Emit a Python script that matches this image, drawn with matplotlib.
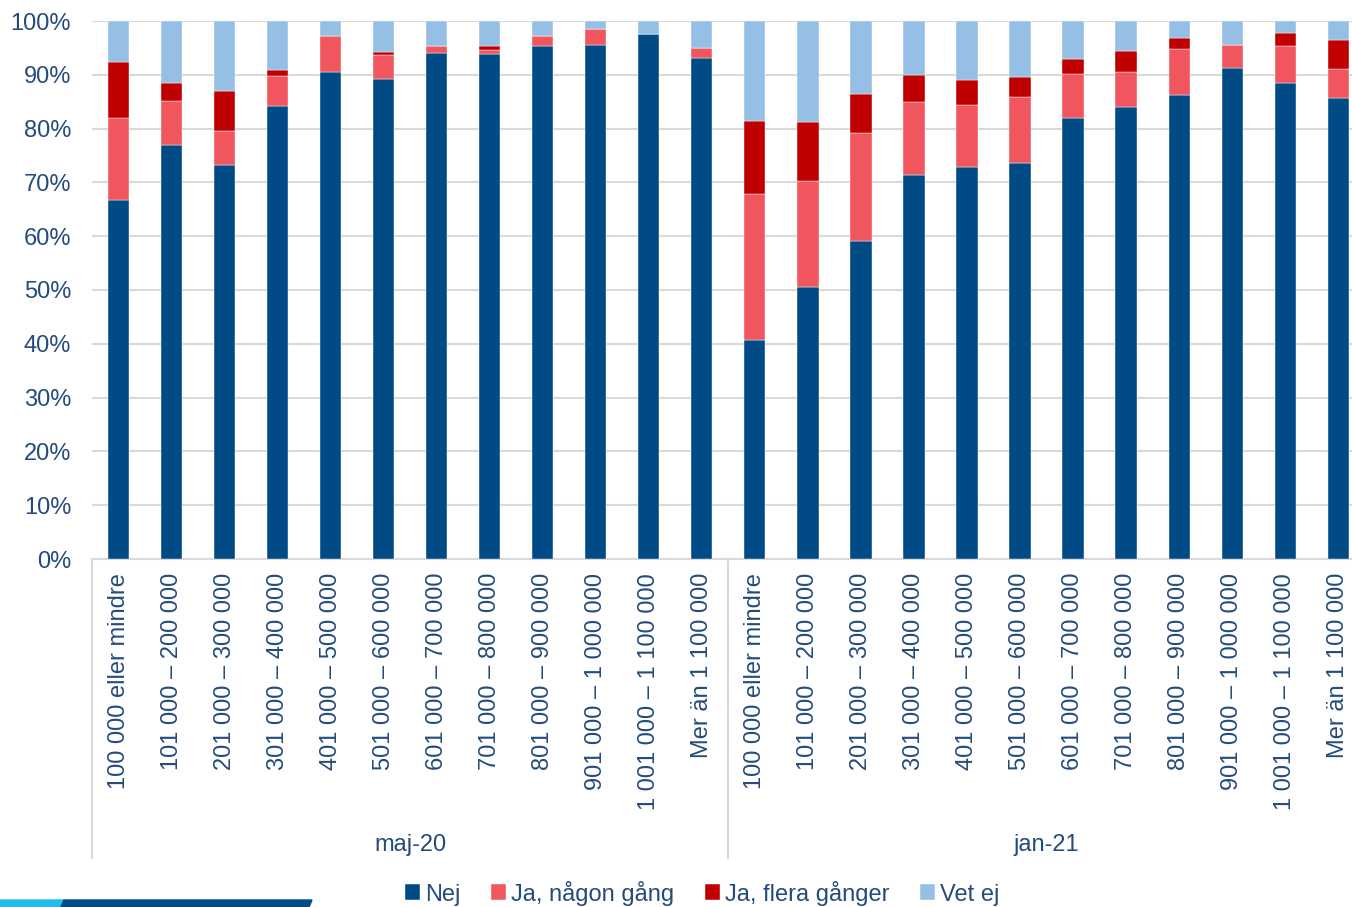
import numpy as np
import matplotlib.pyplot as plt
from matplotlib.patches import Polygon
from matplotlib.lines import Line2D
import matplotlib.transforms as mtransforms

plt.rcParams["font.family"] = ["Liberation Sans", "DejaVu Sans"]

# kategorier (inkomstklasser) och perioder
klasser = ["100 000 eller mindre", "101 000 – 200 000", "201 000 – 300 000",
           "301 000 – 400 000", "401 000 – 500 000", "501 000 – 600 000",
           "601 000 – 700 000", "701 000 – 800 000", "801 000 – 900 000",
           "901 000 – 1 000 000", "1 001 000 – 1 100 000", "Mer än 1 100 000"]
perioder = ["maj-20", "jan-21"]

# andelar i procent, maj-20 följt av jan-21
nej = [66.7, 77.0, 73.3, 84.2, 90.6, 89.2, 94.1, 93.8, 95.3, 95.6, 97.6, 93.2,
       40.7, 50.5, 59.2, 71.3, 72.9, 73.6, 81.9, 84.1, 86.3, 91.3, 88.4, 85.7]
ja_nagon = [15.3, 8.1, 6.2, 5.5, 6.6, 4.4, 1.3, 0.9, 1.9, 3.0, 0.0, 1.7,
            27.1, 19.7, 20.0, 13.6, 11.4, 12.3, 8.3, 6.5, 8.5, 4.3, 7.0, 5.4]
ja_flera = [10.3, 3.4, 7.5, 1.2, 0.0, 0.7, 0.0, 0.7, 0.0, 0.0, 0.0, 0.0,
            13.7, 11.1, 7.3, 5.0, 4.8, 3.6, 2.7, 3.9, 2.1, 0.0, 2.3, 5.4]
vet_ej = [7.7, 11.5, 13.0, 9.1, 2.8, 5.7, 4.6, 4.6, 2.8, 1.4, 2.4, 5.1,
          18.5, 18.7, 13.5, 10.1, 10.9, 10.5, 7.1, 5.5, 3.1, 4.4, 2.3, 3.5]

serier = ["Nej", "Ja, någon gång", "Ja, flera gånger", "Vet ej"]
farger = ["#004A86", "#F1565E", "#C00000", "#95BFE4"]
TXT = "#244B7C"
FS = 17

W, H = 1352, 907
fig = plt.figure(figsize=(W / 100, H / 100), dpi=100)
ax = fig.add_axes([92 / W, 1 - 559 / H, 24 * 53.03 / W, 538 / H])

x = np.arange(len(nej))
bottom = np.zeros(len(nej))
for vals, col, namn in zip([nej, ja_nagon, ja_flera, vet_ej], farger, serier):
    ax.bar(x, vals, bottom=bottom, width=0.4, color=col, label=namn,
           edgecolor="#FFFFFF", linewidth=0.3, zorder=3)
    bottom += np.array(vals)

ax.set_xlim(-0.5, len(nej) - 0.5)
ax.set_ylim(0, 100)
ax.set_yticks(np.arange(0, 101, 10))
ax.set_yticklabels([f"{v}%" for v in range(0, 101, 10)], fontsize=FS, color=TXT)
ax.yaxis.grid(True, color="#D9D9D9", lw=1.5, zorder=0)
ax.tick_params(axis="y", length=0, pad=15)

ax.set_xticks(x)
ax.set_xticklabels(klasser * 2, rotation=90, fontsize=FS, color=TXT)
ax.tick_params(axis="x", length=0, pad=10)

for s in ["left", "right", "top"]:
    ax.spines[s].set_visible(False)
ax.spines["bottom"].set_color("#D9D9D9")
ax.spines["bottom"].set_linewidth(1.5)

# gruppavgränsare och periodetiketter under axeln
trans = mtransforms.blended_transform_factory(ax.transData, ax.transAxes)
ylow = -(858 - 559) / 538
for xs in [-0.5, 11.5]:
    ax.add_line(Line2D([xs, xs], [0, ylow], transform=trans, color="#D9D9D9",
                       lw=1.5, clip_on=False))
for i, p in enumerate(perioder):
    ax.text(5.5 + 12 * i, -(845 - 559) / 538, p, transform=trans, ha="center",
            va="center", fontsize=FS, color=TXT)

fig.legend(loc="center", bbox_to_anchor=(702 / W, 1 - 893 / H), ncol=4,
           frameon=False, fontsize=FS, labelcolor=TXT, handlelength=0.65,
           handleheight=0.65, handletextpad=0.2, columnspacing=1.3)

# dekorlist nere till vänster
fig.patches.append(Polygon([(0, 1 - 900 / H), (64 / W, 1 - 900 / H),
                            (61 / W, 0), (0, 0)], closed=True,
                           transform=fig.transFigure, color="#22BCEB"))
fig.patches.append(Polygon([(64 / W, 1 - 900 / H), (312 / W, 1 - 900 / H),
                            (309 / W, 0), (61 / W, 0)], closed=True,
                           transform=fig.transFigure, color="#004A86"))

fig.savefig("out.png", dpi=100)
